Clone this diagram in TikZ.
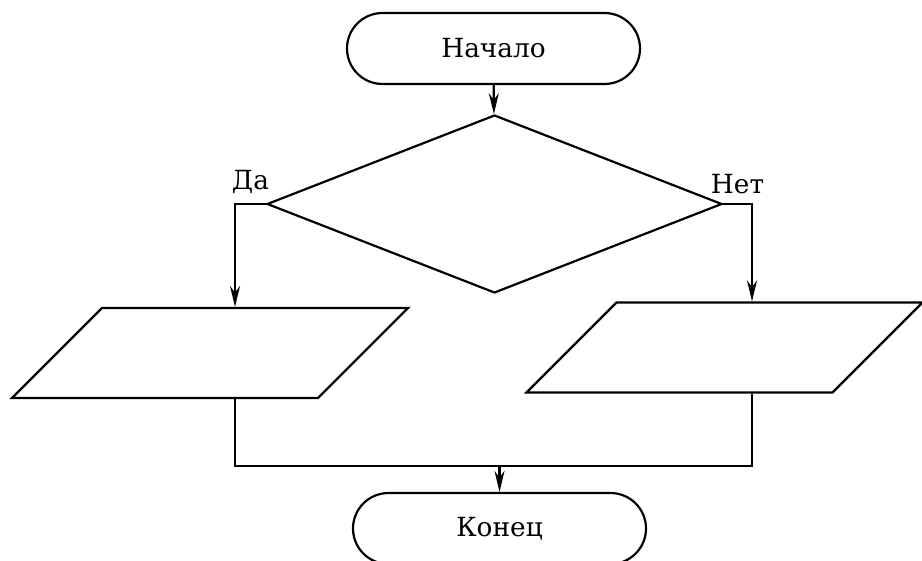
\documentclass[tikz,border=0pt]{standalone}
\usepackage{fontspec}
\setmainfont{DejaVu Serif}
\usetikzlibrary{arrows.meta,shapes.geometric,calc}

\begin{document}
\begin{tikzpicture}[
  x=0.2mm, y=-0.2mm,
  font=\fontsize{15}{18}\selectfont,
  line width=1.25pt,
  >={Stealth[length=4.2mm, width=2mm]},
  term/.style={draw, rounded corners=7.1mm, minimum width=58.6mm, minimum height=14.2mm, inner sep=0pt},
  cond/.style={draw, diamond, minimum width=91mm, minimum height=35.6mm, inner sep=0pt},
  io/.style={draw, trapezium, trapezium left angle=45, trapezium right angle=135, trapezium stretches body=true,
             minimum width=79.2mm, inner xsep=1pt, inner ysep=9mm},
  lab/.style={above, inner sep=5pt},
]
\useasboundingbox (0,0) rectangle (922,561);
\node[term] (start) at (493.5,48.5) {Начало};
\node[cond] (dec) at (494.5,204) {};
\node[io] (p1) at (210,353) {};
\node[io] (p2) at (724.5,347.5) {};
\node[term] (stop) at (499.5,528.5) {Конец};
% branch columns and the joining line
\coordinate (ya) at (235,466);
\coordinate (na) at (752,466);
\draw[->] (start) -- (dec);
\draw[->] (dec.west) -- (dec.west -| ya) node[lab, midway] {Да} -- (ya |- p1.north);
\draw[->] (dec.east) -- (dec.east -| na) node[lab, midway] {Нет} -- (na |- p2.north);
\draw (ya |- p1.south) -- (ya) -- (na) -- (na |- p2.south);
\draw[->] (stop.north |- ya) -- (stop);
\end{tikzpicture}
\end{document}
